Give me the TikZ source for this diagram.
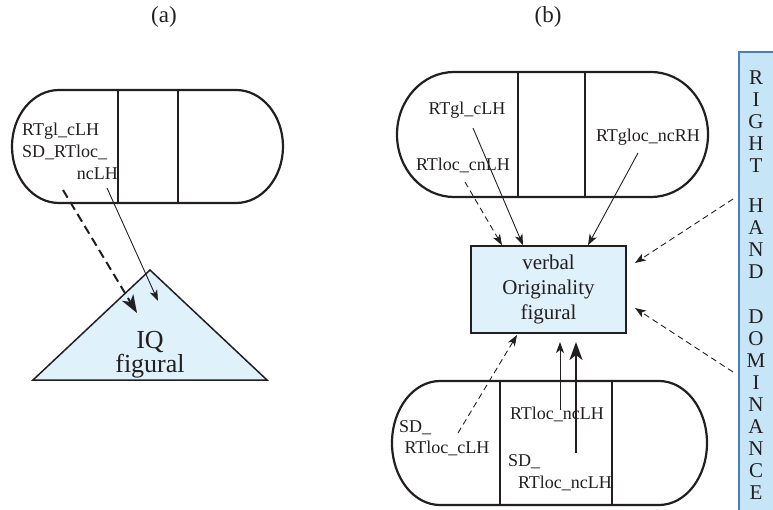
\documentclass[tikz,border=0pt]{standalone}
\usepackage{fontspec}
\setmainfont{Liberation Serif}
\usetikzlibrary{arrows.meta,calc}
\definecolor{PaleBlue}{RGB}{223,241,250}
\definecolor{BarBlue}{RGB}{198,230,248}
\definecolor{BarEdge}{RGB}{74,126,187}
\definecolor{InkClr}{RGB}{35,31,32}

\tikzset{
  lbl/.style={inner sep=0pt,font=\fontsize{18}{20}\selectfont,text=InkClr},
  thinarr/.style={draw=InkClr,line width=0.9pt,-{Stealth[length=11pt,width=8pt,inset=3pt]}},
  thickarr/.style={draw=InkClr,line width=2pt,-{Stealth[length=18pt,width=13pt,inset=5pt]}},
  capsule/.style={draw=InkClr,line width=2.2pt}
}

% Kapsel: links, rechts, oben, unten, Radius
\newcommand{\capsuleshape}[5]{%
  \draw[capsule] ({#1+#5},#3) -- ({#2-#5},#3)
    arc[start angle=-90,end angle=90,x radius=#5,y radius={(#4-#3)/2}]
    -- ({#1+#5},#4)
    arc[start angle=90,end angle=270,x radius=#5,y radius={(#4-#3)/2}] -- cycle;}

\begin{document}
\begin{tikzpicture}[x=1pt,y=-1pt]
\useasboundingbox (0,0) rectangle (773,510);

% Ueberschriften
\node[lbl,font=\fontsize{23}{25}\selectfont] (capA) at (164,17) {(a)};
\node[lbl,font=\fontsize{23}{25}\selectfont] (capB) at (548,17) {(b)};

% ---------- Teil (a) ----------
\capsuleshape{12}{283}{90}{203}{47}
\draw[capsule] (118,90) -- (118,203);
\draw[capsule] (178,90) -- (178,203);

\node[lbl,anchor=west] (glA) at (22,131) {RTgl\_cLH};
\node[lbl,anchor=west] (sdA) at (22,152) {SD\_RTloc\_};
\node[lbl,anchor=east] (ncA) at (118,174) {ncLH};

% Dreieck
\draw[fill=PaleBlue,draw=InkClr,line width=1.5pt] (150,270) -- (267,380) -- (33,380) -- cycle;
\node[lbl,align=center,font=\fontsize{26}{24}\selectfont] (iq) at (150,355) {IQ\\figural};

\coordinate (sdFrom) at (63,190);
\coordinate (sdTo) at (137,313);
\coordinate (ncFrom) at (107,188);
\coordinate (ncTo) at (158,301);
\draw[thickarr,dash pattern=on 9pt off 5pt] (sdFrom) -- (sdTo);
\draw[thinarr] (ncFrom) -- (ncTo);

% ---------- Teil (b) ----------
\capsuleshape{397}{708}{72}{197}{57}
\draw[capsule] (518,72) -- (518,197);
\draw[capsule] (585,72) -- (585,197);

\capsuleshape{392}{707}{381}{505}{48}
\draw[capsule] (500,381) -- (500,505);
\draw[capsule] (612,381) -- (612,505);

\node[draw=InkClr,fill=PaleBlue,line width=1.5pt,minimum width=155pt,minimum height=87pt,
  align=center,font=\fontsize{21}{25}\selectfont,text=InkClr] (orig) at (548.5,289.5)
  {verbal\\Originality\\figural};

% Seitenbalken
\draw[fill=BarBlue,draw=BarEdge,line width=1.5pt] (739,52) rectangle (776,514);
\node[inner sep=0pt,align=center,text=InkClr,font=\fontsize{21}{22}\selectfont] (bar) at (756,285)
  {R\\I\\G\\H\\T\\[18pt]H\\A\\N\\D\\[23pt]D\\O\\M\\I\\N\\A\\N\\C\\E};

% Beschriftungen oben
\node[lbl] (glB) at (467,110) {RTgl\_cLH};
\node[lbl] (cnB) at (463,165) {RTloc\_cnLH};
\node[lbl] (ncRB) at (648,137) {RTgloc\_ncRH};

% Beschriftungen unten
\node[lbl,anchor=west] (sdB) at (399,428) {SD\_};
\node[lbl] (cLB) at (447,448) {RTloc\_cLH};
\node[lbl] (ncB) at (557,414) {RTloc\_ncLH};
\node[lbl,anchor=west] (sdC) at (508,462) {SD\_};
\node[lbl] (ncC) at (565,483) {RTloc\_ncLH};

% Pfeile oben
\coordinate (cnFrom) at (465,182);
\coordinate (glFrom) at (473,128);
\coordinate (rhFrom) at (638,153);
\draw[thinarr,dash pattern=on 6pt off 4pt] (cnFrom) -- (orig.north -| 502,0);
\draw[thinarr] (glFrom) -- (orig.north -| 523,0);
\draw[thinarr] (rhFrom) -- (orig.north -| 588,0);

% Pfeile vom Balken
\coordinate (barUp) at (733,199);
\coordinate (barLow) at (733,372);
\draw[thinarr,dash pattern=on 6pt off 4pt] (barUp) -- (635,263);
\draw[thinarr,dash pattern=on 6pt off 4pt] (barLow) -- (635,308);

% Pfeile unten
\coordinate (cLFrom) at (458,433);
\coordinate (ncFromB) at (560,410);
\coordinate (ncFromC) at (576,453);
\draw[thinarr,dash pattern=on 6pt off 4pt] (cLFrom) -- (517,335);
\draw[thinarr] (ncFromB) -- (560,342);
\draw[thickarr] (ncFromC) -- (576,342);

\end{tikzpicture}
\end{document}
